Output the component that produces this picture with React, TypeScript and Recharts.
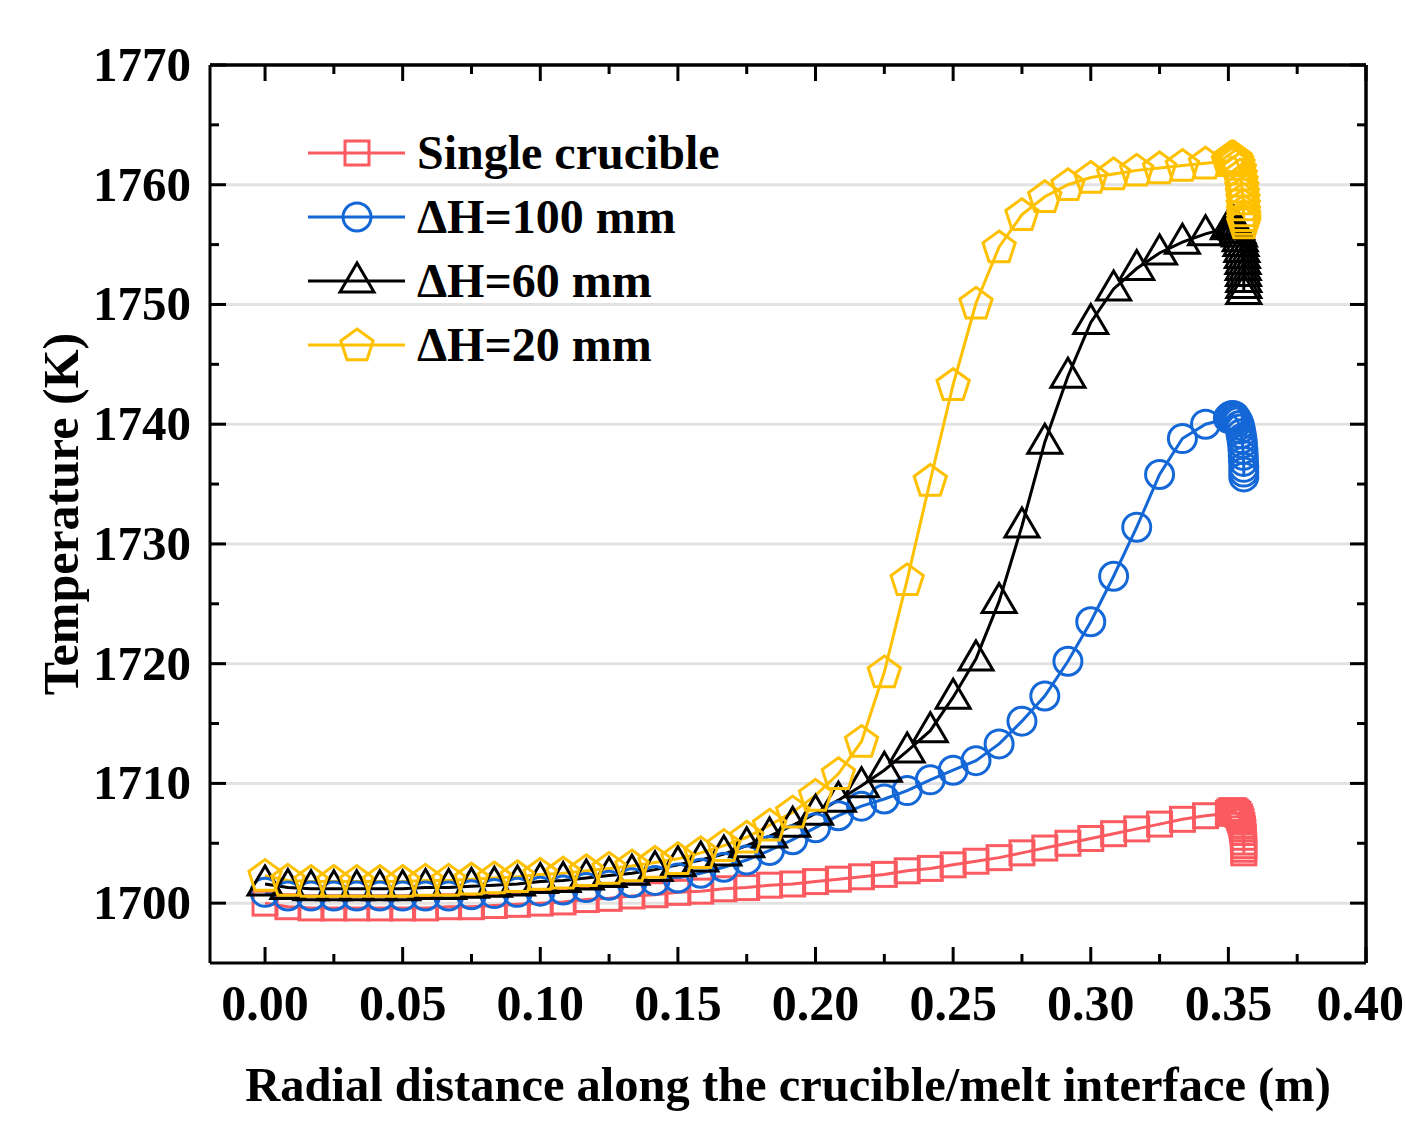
import React from 'react';
import { LineChart, Line, XAxis, YAxis, ReferenceLine, Legend } from 'recharts';

// Radial distance (m)
const radialX = [
  0, 0.0083, 0.0167, 0.025, 0.0333, 0.0417, 0.05, 0.0583, 0.0667, 0.075,
  0.0833, 0.0917, 0.1, 0.1083, 0.1167, 0.125, 0.1333, 0.1417, 0.15, 0.1583,
  0.1667, 0.175, 0.1833, 0.1917, 0.2, 0.2083, 0.2167, 0.225, 0.2333, 0.2417,
  0.25, 0.2583, 0.2667, 0.275, 0.2833, 0.2917, 0.3, 0.3083, 0.3167, 0.325,
  0.3333, 0.3417, 0.35,
  0.3505, 0.351, 0.3515, 0.352, 0.3525, 0.353, 0.3535, 0.354, 0.3543, 0.3546,
  0.3549, 0.3551, 0.3553, 0.3554, 0.3555, 0.3556, 0.3556, 0.3556,
];

const singleCrucible = [
  1700.0, 1699.7, 1699.6, 1699.6, 1699.6, 1699.6, 1699.6, 1699.6, 1699.7, 1699.7,
  1699.8, 1699.9, 1700.0, 1700.1, 1700.3, 1700.4, 1700.6, 1700.7, 1700.9, 1701.0,
  1701.2, 1701.3, 1701.5, 1701.6, 1701.8, 1702.0, 1702.2, 1702.4, 1702.7, 1702.9,
  1703.2, 1703.5, 1703.8, 1704.2, 1704.6, 1705.0, 1705.4, 1705.8, 1706.2, 1706.6,
  1707.0, 1707.3, 1707.5,
  1707.6, 1707.7, 1707.7, 1707.7, 1707.6, 1707.5, 1707.4, 1707.2, 1707.0, 1706.8,
  1706.5, 1706.2, 1705.9, 1705.5, 1705.1, 1704.8, 1704.5, 1704.2,
];

const dH100 = [
  1700.9, 1700.6, 1700.6, 1700.6, 1700.6, 1700.6, 1700.6, 1700.6, 1700.6, 1700.7,
  1700.8, 1700.9, 1701.0, 1701.1, 1701.3, 1701.5, 1701.7, 1701.9, 1702.1, 1702.5,
  1703.0, 1703.6, 1704.4, 1705.3, 1706.3, 1707.3, 1708.1, 1708.7, 1709.4, 1710.3,
  1711.1, 1711.9, 1713.3, 1715.2, 1717.3, 1720.2, 1723.5, 1727.3, 1731.4, 1735.8,
  1738.8, 1740.0, 1740.5,
  1740.6, 1740.7, 1740.7, 1740.7, 1740.6, 1740.4, 1740.2, 1739.9, 1739.6, 1739.2,
  1738.8, 1738.4, 1737.9, 1737.4, 1736.9, 1736.4, 1736.0, 1735.6,
];

const dH60 = [
  1701.6, 1701.3, 1701.2, 1701.2, 1701.2, 1701.2, 1701.2, 1701.3, 1701.3, 1701.4,
  1701.5, 1701.6, 1701.8, 1701.9, 1702.1, 1702.3, 1702.5, 1702.8, 1703.2, 1703.6,
  1704.1, 1704.8, 1705.6, 1706.5, 1707.5, 1708.6, 1709.8, 1711.1, 1712.7, 1714.4,
  1717.2, 1720.4, 1725.2, 1731.5, 1738.5, 1744.0, 1748.5, 1751.3, 1753.0, 1754.3,
  1755.2, 1755.9, 1756.4,
  1756.6, 1756.7, 1756.7, 1756.7, 1756.6, 1756.4, 1756.1, 1755.8, 1755.4, 1755.0,
  1754.5, 1754.0, 1753.5, 1753.0, 1752.5, 1752.0, 1751.5, 1751.0,
];

const dH20 = [
  1702.3, 1701.9, 1701.8, 1701.8, 1701.8, 1701.8, 1701.8, 1701.9, 1701.9, 1702.0,
  1702.1, 1702.2, 1702.4, 1702.5, 1702.7, 1702.9, 1703.1, 1703.4, 1703.7, 1704.2,
  1704.8, 1705.5, 1706.5, 1707.6, 1709.0, 1710.8, 1713.5, 1719.3, 1727.0, 1735.3,
  1743.3, 1750.1, 1754.8, 1757.5, 1759.0, 1760.0, 1760.6, 1760.9, 1761.2, 1761.4,
  1761.6, 1761.8, 1762.0,
  1762.2, 1762.3, 1762.3, 1762.3, 1762.2, 1762.0, 1761.7, 1761.3, 1760.8, 1760.3,
  1759.8, 1759.3, 1758.8, 1758.3, 1757.8, 1757.4, 1757.1, 1756.8,
];

const xTicks = [0, 0.025, 0.05, 0.075, 0.1, 0.125, 0.15, 0.175, 0.2, 0.225, 0.25, 0.275, 0.3, 0.325, 0.35, 0.375, 0.4];
const yTicks = [1700, 1705, 1710, 1715, 1720, 1725, 1730, 1735, 1740, 1745, 1750, 1755, 1760, 1765, 1770];
const yGridValues = [1700, 1710, 1720, 1730, 1740, 1750, 1760];

const seriesNames = ['Single crucible', 'ΔH=100 mm', 'ΔH=60 mm', 'ΔH=20 mm'];
const seriesKeys = ['single', 'h100', 'h60', 'h20'];
const seriesColors = ['#FA5A60', '#1467D6', '#000000', '#FFC000'];
const seriesShapes = ['square', 'circle', 'triangle', 'pentagon'];

const data = radialX.map((x, i) => ({
  x,
  single: singleCrucible[i],
  h100: dH100[i],
  h60: dH60[i],
  h20: dH20[i],
}));

const FONT = "'Liberation Serif', 'Times New Roman', serif";

function Marker({ shape, cx, cy, color }: { shape: string; cx: number; cy: number; color: string }) {
  const sw = 3;
  if (shape === 'square') {
    const s = 12;
    return <rect x={cx - s} y={cy - s} width={2 * s} height={2 * s} fill="none" stroke={color} strokeWidth={sw} />;
  }
  if (shape === 'circle') {
    return <circle cx={cx} cy={cy} r={14} fill="none" stroke={color} strokeWidth={sw} />;
  }
  if (shape === 'triangle') {
    const h = 17;
    const pts = `${cx},${cy - 18} ${cx - h},${cy + 11} ${cx + h},${cy + 11}`;
    return <polygon points={pts} fill="none" stroke={color} strokeWidth={sw} strokeLinejoin="miter" />;
  }
  const R = 17;
  const pts = [0, 1, 2, 3, 4]
    .map((k) => {
      const a = ((-90 + 72 * k) * Math.PI) / 180;
      return `${cx + R * Math.cos(a)},${cy + 1 + R * Math.sin(a)}`;
    })
    .join(' ');
  return <polygon points={pts} fill="none" stroke={color} strokeWidth={sw} />;
}

const isMajorX = (v: number) => Math.round(v * 1000) % 50 === 0;
const isMajorY = (v: number) => Math.round(v) % 10 === 0;

const BottomTick = (props: any) => {
  const { x, y, payload } = props;
  const v = payload.value;
  const major = isMajorX(v);
  const last = Math.round(v * 1000) === 400;
  return (
    <g>
      <line x1={x} x2={x} y1={y} y2={y - (major ? 16 : 9)} stroke="#000" strokeWidth={3} />
      {major && (
        <text
          x={last ? 1404 : x}
          y={y + 57}
          textAnchor={last ? 'end' : 'middle'}
          fontFamily={FONT}
          fontWeight="bold"
          fontSize={50}
          fill="#000"
        >
          {v.toFixed(2)}
        </text>
      )}
    </g>
  );
};

const TopTick = (props: any) => {
  const { x, y, payload } = props;
  const major = isMajorX(payload.value);
  return <line x1={x} x2={x} y1={y} y2={y + (major ? 16 : 9)} stroke="#000" strokeWidth={3} />;
};

const LeftTick = (props: any) => {
  const { x, y, payload } = props;
  const v = payload.value;
  const major = isMajorY(v);
  return (
    <g>
      <line x1={x} x2={x + (major ? 16 : 9)} y1={y} y2={y} stroke="#000" strokeWidth={3} />
      {major && (
        <text x={x - 19} y={y + 16} textAnchor="end" fontFamily={FONT} fontWeight="bold" fontSize={49} fill="#000">
          {v}
        </text>
      )}
    </g>
  );
};

const RightTick = (props: any) => {
  const { x, y, payload } = props;
  const major = isMajorY(payload.value);
  return <line x1={x} x2={x - (major ? 16 : 9)} y1={y} y2={y} stroke="#000" strokeWidth={3} />;
};

const LegendContent = () => (
  <svg width={500} height={260} style={{ display: 'block' }}>
    {seriesNames.map((name, i) => {
      const cy = 28 + i * 64;
      return (
        <g key={name}>
          <line x1={8} x2={105} y1={cy} y2={cy} stroke={seriesColors[i]} strokeWidth={3} />
          <Marker shape={seriesShapes[i]} cx={57} cy={cy} color={seriesColors[i]} />
          <text x={117} y={cy + 16} fontFamily={FONT} fontWeight="bold" fontSize={48} fill="#000">
            {name}
          </text>
        </g>
      );
    })}
  </svg>
);

export default function App() {
  return (
    <div style={{ position: 'absolute', left: 0, top: 0, width: 1406, height: 1125, background: '#fff' }}>
      <LineChart width={1406} height={1125} data={data} margin={{ top: 64, right: 39, bottom: 12, left: 10 }}>
        <XAxis
          xAxisId="bottom"
          dataKey="x"
          type="number"
          domain={[-0.02, 0.4]}
          ticks={xTicks}
          interval={0}
          orientation="bottom"
          height={150}
          tickSize={0}
          tickMargin={0}
          tickLine={false}
          axisLine={{ stroke: '#000', strokeWidth: 3 }}
          tick={<BottomTick />}
          allowDataOverflow
          label={{
            value: 'Radial distance along the crucible/melt interface (m)',
            position: 'insideBottom',
            offset: 12,
            fontFamily: FONT,
            fontWeight: 'bold',
            fontSize: 48.5,
            fill: '#000',
          }}
        />
        <XAxis
          xAxisId="top"
          dataKey="x"
          type="number"
          domain={[-0.02, 0.4]}
          ticks={xTicks}
          interval={0}
          orientation="top"
          height={1}
          tickSize={0}
          tickMargin={0}
          tickLine={false}
          axisLine={{ stroke: '#000', strokeWidth: 3 }}
          tick={<TopTick />}
          allowDataOverflow
        />
        <YAxis
          yAxisId="left"
          type="number"
          domain={[1695, 1770]}
          ticks={yTicks}
          interval={0}
          orientation="left"
          width={200}
          tickSize={0}
          tickMargin={0}
          tickLine={false}
          axisLine={{ stroke: '#000', strokeWidth: 3 }}
          tick={<LeftTick />}
          allowDataOverflow
          label={{
            value: 'Temperature (K)',
            angle: -90,
            position: 'insideLeft',
            offset: 50,
            fontFamily: FONT,
            fontWeight: 'bold',
            fontSize: 50,
            fill: '#000',
            style: { textAnchor: 'middle' },
          }}
        />
        <YAxis
          yAxisId="right"
          type="number"
          domain={[1695, 1770]}
          ticks={yTicks}
          interval={0}
          orientation="right"
          width={1}
          tickSize={0}
          tickMargin={0}
          tickLine={false}
          axisLine={{ stroke: '#000', strokeWidth: 3 }}
          tick={<RightTick />}
          allowDataOverflow
        />
        {yGridValues.map((v) => (
          <ReferenceLine key={v} xAxisId="bottom" yAxisId="left" y={v} stroke="#E2E2E2" strokeWidth={3} />
        ))}
        <ReferenceLine xAxisId="bottom" yAxisId="left" y={1770} stroke="#000" strokeWidth={3} />
        <ReferenceLine xAxisId="bottom" yAxisId="left" x={0.4} stroke="#000" strokeWidth={3} />
        <Legend
          layout="horizontal"
          verticalAlign="middle"
          align="center"
          content={<LegendContent />}
          wrapperStyle={{ position: 'absolute', left: 300, top: 125, width: 500, height: 260 }}
        />
        {seriesKeys.map((k, i) => (
          <Line
            key={k}
            xAxisId="bottom"
            yAxisId="left"
            dataKey={k}
            name={seriesNames[i]}
            type="linear"
            stroke={seriesColors[i]}
            strokeWidth={3}
            isAnimationActive={false}
            dot={(p: any) => (
              <Marker key={`${k}-${p.index}`} shape={seriesShapes[i]} cx={p.cx} cy={p.cy} color={seriesColors[i]} />
            )}
            activeDot={false}
          />
        ))}
      </LineChart>
    </div>
  );
}
